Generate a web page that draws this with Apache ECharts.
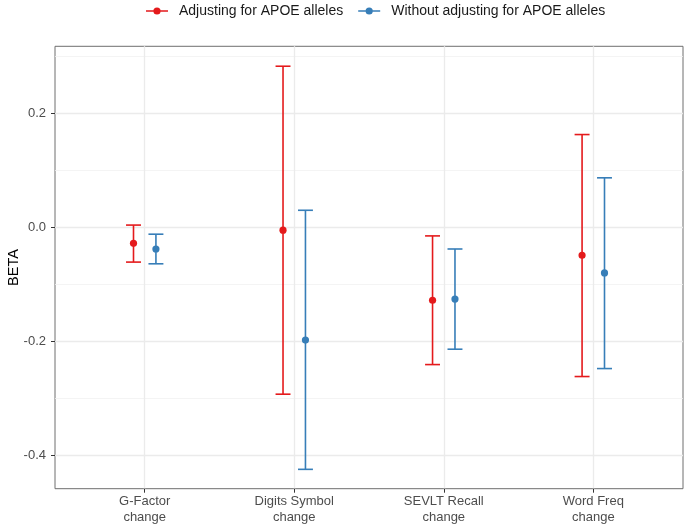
<!DOCTYPE html>
<html><head><meta charset="utf-8">
<script src="https://cdn.jsdelivr.net/npm/echarts@6/dist/echarts.min.js"></script>
<style>html,body{margin:0;padding:0;background:#fff}#c{width:685px;height:529px}</style>
</head><body><div id="c"></div>
<script>
const categories = ['G-Factor\nchange','Digits Symbol\nchange','SEVLT Recall\nchange','Word Freq\nchange'];
const seriesNames = ['Adjusting for APOE alleles','Without adjusting for APOE alleles'];
const adjEst  = [-0.028, -0.005, -0.128, -0.049];
const adjLow  = [-0.061, -0.293, -0.241, -0.262];
const adjHigh = [ 0.004,  0.283, -0.015,  0.163];
const unadjEst  = [-0.038, -0.198, -0.126, -0.080];
const unadjLow  = [-0.064, -0.425, -0.214, -0.248];
const unadjHigh = [-0.012,  0.030, -0.038,  0.087];
const yMajorTicks = [-0.4, -0.2, 0, 0.2];
const yMinorTicks = [-0.3, -0.1, 0.1, 0.3];
const xTicks = [1, 2, 3, 4];

const RED = '#E41A1C', BLUE = '#377EB8';
const DODGE = 0.075, CAP = 0.05;

function makeRender(color, dodge){
  return function(params, api){
    const unit = api.coord([2,0])[0] - api.coord([1,0])[0];
    const x = api.coord([api.value(0),0])[0] + dodge*unit;
    const yE = api.coord([0,api.value(1)])[1];
    const yL = api.coord([0,api.value(2)])[1];
    const yH = api.coord([0,api.value(3)])[1];
    const cap = CAP*unit;
    const st = {stroke: color, lineWidth: 1.6};
    return {type:'group', children:[
      {type:'line', shape:{x1:x,y1:yL,x2:x,y2:yH}, style:st},
      {type:'line', shape:{x1:x-cap,y1:yL,x2:x+cap,y2:yL}, style:st},
      {type:'line', shape:{x1:x-cap,y1:yH,x2:x+cap,y2:yH}, style:st},
      {type:'circle', shape:{cx:x,cy:yE,r:3.6}, style:{fill:color}}
    ]};
  };
}
function build(est, lo, hi){
  return categories.map((c,i)=>[xTicks[i], est[i], lo[i], hi[i]]);
}
const legendIcon = 'path://M0,4.2L22,4.2L22,5.8L0,5.8Z M14.6,5A3.6,3.6 0 1 1 7.4,5A3.6,3.6 0 1 1 14.6,5Z';

const chart = echarts.init(document.getElementById('c'), null, {renderer:'canvas'});
chart.setOption({
  animation:false,
  backgroundColor:'#fff',
  textStyle:{fontFamily:'Liberation Sans, Arial, sans-serif'},
  legend:{
    top:-1, left:141, itemWidth:22, itemHeight:7.2, itemGap:15,
    textStyle:{fontSize:14, color:'#1a1a1a', padding:[0,0,0,6]},
    data:[{name:seriesNames[0], icon:legendIcon},{name:seriesNames[1], icon:legendIcon}]
  },
  grid:{left:55, right:2, top:46.3, bottom:40.3, outerBoundsMode:'none', containLabel:false,
        show:true, borderColor:'#6e6e6e', borderWidth:1, backgroundColor:'#fff'},
  xAxis:{
    type:'value', min:0.4, max:4.6,
    axisLine:{show:false, onZero:false},
    axisTick:{show:true, length:4, lineStyle:{color:'#333'}, customValues:xTicks},
    axisLabel:{customValues:xTicks, formatter:v=>categories[Math.round(v)-1], color:'#4d4d4d', fontSize:13, lineHeight:16, margin:5},
    splitLine:{show:true, lineStyle:{color:'#ebebeb', width:1.3}}
  },
  yAxis:[{
    type:'value', min:-0.459, max:0.318,
    name:'BETA', nameLocation:'middle', nameGap:34, nameMoveOverlap:false,
    nameTextStyle:{fontSize:14.5, color:'#000'},
    axisLine:{show:false, onZero:false},
    axisTick:{show:true, length:4, lineStyle:{color:'#333'}, customValues:yMajorTicks},
    axisLabel:{customValues:yMajorTicks, formatter:v=>v.toFixed(1), color:'#4d4d4d', fontSize:13, margin:9},
    splitLine:{show:true, lineStyle:{color:'#ebebeb', width:1.3}}
  },{
    type:'value', min:-0.459, max:0.318, position:'left',
    axisLine:{show:false, onZero:false},
    axisTick:{show:false, customValues:yMinorTicks},
    axisLabel:{show:false, customValues:yMinorTicks},
    splitLine:{show:true, lineStyle:{color:'#f1f1f1', width:0.8}}
  }],
  series:[
    {name:seriesNames[0], type:'custom', itemStyle:{color:RED}, renderItem:makeRender(RED,-DODGE), data:build(adjEst,adjLow,adjHigh), z:5},
    {name:seriesNames[1], type:'custom', itemStyle:{color:BLUE}, renderItem:makeRender(BLUE,DODGE), data:build(unadjEst,unadjLow,unadjHigh), z:5}
  ]
});
</script></body></html>
